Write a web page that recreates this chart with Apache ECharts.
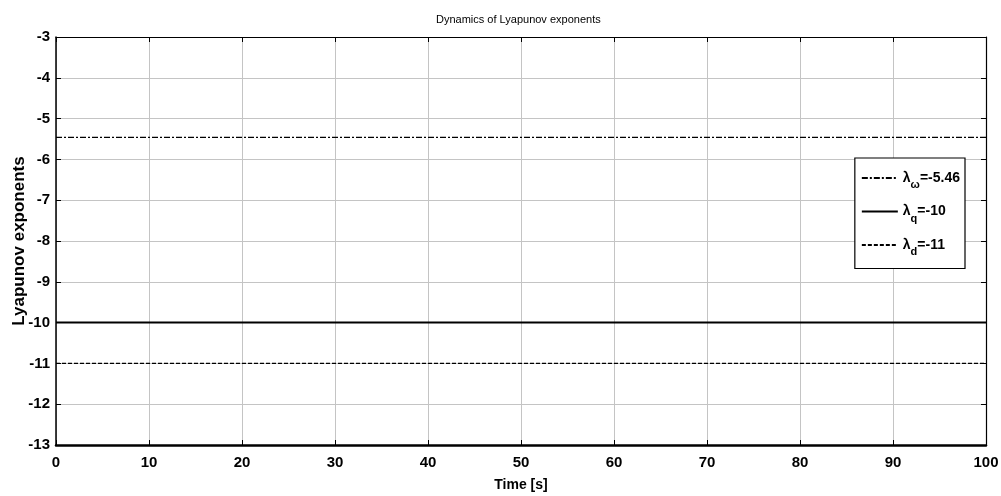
<!DOCTYPE html>
<html>
<head>
<meta charset="utf-8">
<script src="https://cdn.jsdelivr.net/npm/echarts@6/dist/echarts.min.js"></script>
<style>
  html, body { margin: 0; padding: 0; background: #fff; }
  #chart { width: 1001px; height: 496px; }
</style>
</head>
<body>
<div id="chart"></div>
<script>
// Time samples (s) and the constant Lyapunov exponents
const timeValues = [0, 10, 20, 30, 40, 50, 60, 70, 80, 90, 100];
const lambdaOmega = [-5.46, -5.46, -5.46, -5.46, -5.46, -5.46, -5.46, -5.46, -5.46, -5.46, -5.46];
const lambdaQ = [-10, -10, -10, -10, -10, -10, -10, -10, -10, -10, -10];
const lambdaD = [-11, -11, -11, -11, -11, -11, -11, -11, -11, -11, -11];
const seriesNames = ['λω', 'λq', 'λd'];
const seriesLabels = ['{l|λ}{s|ω}{l|=-5.46}', '{l|λ}{s|q}{l|=-10}', '{l|λ}{s|d}{l|=-11}'];

const pairs = (ys) => timeValues.map((t, i) => [t, ys[i]]);

const chart = echarts.init(document.getElementById('chart'), null, { renderer: 'canvas' });

const font = '"Liberation Sans", Arial, sans-serif';

chart.setOption({
  animation: false,
  backgroundColor: '#ffffff',
  title: {
    text: 'Dynamics of Lyapunov exponents',
    left: 431,
    top: 9,
    textStyle: { fontFamily: font, fontSize: 11, fontWeight: 'normal', color: '#000' }
  },
  grid: { left: 56, right: 15, top: 37, bottom: 51, outerBoundsMode: 'none' },
  legend: {
    orient: 'vertical',
    right: 36,
    top: 158,
    backgroundColor: '#fff',
    borderColor: '#000',
    borderWidth: 1.2,
    borderRadius: 0,
    padding: [13, 5, 11, 6],
    itemGap: 14,
    itemWidth: 36,
    itemHeight: 10,
    itemStyle: { opacity: 0 },
    formatter: (name) => seriesLabels[seriesNames.indexOf(name)],
    textStyle: {
      color: '#000',
      rich: {
        l: { fontFamily: font, fontSize: 14, fontWeight: 'bold', color: '#000' },
        s: { fontFamily: font, fontSize: 11, fontWeight: 'bold', color: '#000', padding: [14, 0, 0, 0] }
      }
    }
  },
  xAxis: [
    {
      type: 'value', min: 0, max: 100, interval: 10,
      name: 'Time [s]', nameLocation: 'middle', nameGap: 33, nameMoveOverlap: false,
      nameTextStyle: { fontFamily: font, fontSize: 14, fontWeight: 'bold', color: '#000' },
      axisLine: { show: true, onZero: false, lineStyle: { color: '#000', width: 2.5 } },
      axisTick: { show: true, inside: true, length: 5, lineStyle: { color: '#000' } },
      axisLabel: { fontFamily: font, fontSize: 15, fontWeight: 'bold', color: '#000', margin: 10 },
      splitLine: { show: true, lineStyle: { color: '#c4c4c4', width: 1 } }
    },
    {
      type: 'value', min: 0, max: 100, interval: 10, position: 'top',
      axisLine: { show: true, onZero: false, lineStyle: { color: '#000', width: 1.2 } },
      axisTick: { show: true, inside: true, length: 5, lineStyle: { color: '#000' } },
      axisLabel: { show: false },
      splitLine: { show: false }
    }
  ],
  yAxis: [
    {
      type: 'value', min: -13, max: -3, interval: 1,
      name: 'Lyapunov exponents', nameLocation: 'middle', nameGap: 28, nameRotate: 90,
      nameMoveOverlap: false,
      nameTextStyle: { fontFamily: font, fontSize: 17, fontWeight: 'bold', color: '#000' },
      axisLine: { show: true, onZero: false, lineStyle: { color: '#000', width: 1.5 } },
      axisTick: { show: true, inside: true, length: 5, lineStyle: { color: '#000' } },
      axisLabel: { fontFamily: font, fontSize: 15, fontWeight: 'bold', color: '#000', margin: 6 },
      splitLine: { show: true, lineStyle: { color: '#c4c4c4', width: 1 } }
    },
    {
      type: 'value', min: -13, max: -3, interval: 1, position: 'right',
      axisLine: { show: true, onZero: false, lineStyle: { color: '#000', width: 1.2 } },
      axisTick: { show: true, inside: true, length: 5, lineStyle: { color: '#000' } },
      axisLabel: { show: false },
      splitLine: { show: false }
    }
  ],
  series: [
    {
      name: seriesNames[0], type: 'line', data: pairs(lambdaOmega), symbol: 'none',
      itemStyle: { color: '#000' },
      lineStyle: { color: '#000', width: 1.3, type: [6, 2, 2, 2] }
    },
    {
      name: seriesNames[1], type: 'line', data: pairs(lambdaQ), symbol: 'none',
      itemStyle: { color: '#000' },
      lineStyle: { color: '#000', width: 2, type: 'solid' }
    },
    {
      name: seriesNames[2], type: 'line', data: pairs(lambdaD), symbol: 'none',
      itemStyle: { color: '#000' },
      lineStyle: { color: '#000', width: 1.3, type: [4, 2] }
    }
  ]
});
</script>
</body>
</html>
